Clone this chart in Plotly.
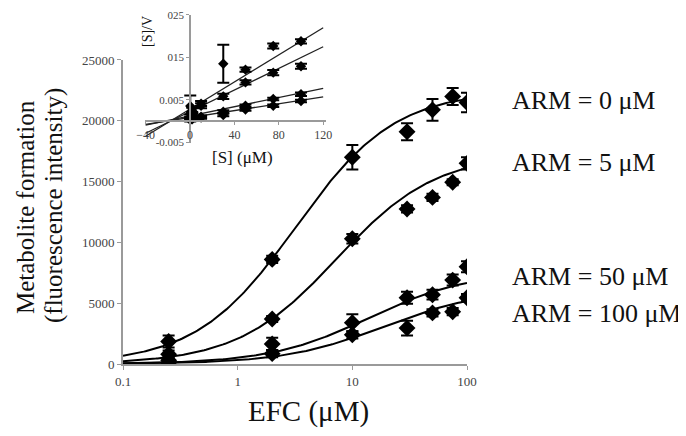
import numpy as np
import plotly.graph_objects as go

# ---------------- data ----------------
efc = [0.25, 2, 10, 30, 50, 75, 100]
series_names = ["ARM = 0 μM", "ARM = 5 μM", "ARM = 50 μM", "ARM = 100 μM"]
arm0 = [1850, 8600, 17000, 19100, 20900, 22000, 21500]
arm0_err = [500, 300, 1000, 700, 900, 700, 800]
arm5 = [800, 3700, 10300, 12750, 13700, 14950, 16500]
arm5_err = [300, 250, 400, 300, 300, 250, 500]
arm50 = [300, 1650, 3400, 5450, 5700, 6900, 8000]
arm50_err = [300, 500, 700, 500, 400, 450, 450]
arm100 = [100, 850, 2400, 2950, 4200, 4300, 5450]
arm100_err = [200, 300, 300, 600, 300, 300, 300]

# Michaelis-Menten fit parameters of the drawn curves
fit_vmax = [22500, 17300, 7600, 6150]
fit_km = [3.2, 7.3, 14.0, 18.7]

# inset (Hanes-Woolf plot)
s_inset = [0.25, 2, 10, 30, 50, 75, 100]
hw0 = [0.0002, 0.0004, 0.0008, 0.0014, 0.0027, 0.0036, 0.0047]
hw0_err = [0.0003, 0.0003, 0.0003, 0.0003, 0.0003, 0.0003, 0.0003]
hw5 = [0.0005, 0.0007, 0.0010, 0.0022, 0.0036, 0.0052, 0.0063]
hw5_err = [0.0003, 0.0003, 0.0003, 0.0003, 0.0003, 0.0003, 0.0004]
hw50 = [0.0010, 0.0015, 0.0036, 0.0058, 0.0091, 0.0114, 0.0129]
hw50_err = [0.0005, 0.0006, 0.0006, 0.0006, 0.0005, 0.0006, 0.0006]
hw100 = [0.0035, 0.0025, 0.0041, 0.0135, 0.0121, 0.0177, 0.0188]
hw100_err = [0.0025, 0.0006, 0.0006, 0.0045, 0.0005, 0.0006, 0.0005]
hw_slope = [0.0000408, 0.000054, 0.0001275, 0.000160]
hw_intercept = [0.0008, 0.0012, 0.0022, 0.0028]
hw_line_range = [-40, 120]

inset_yticks = [-0.005, 0.005, 0.015, 0.025]
inset_yticktext = ["-0.005", "0.005", "015", "025"]
inset_xticks = [-40, 0, 40, 80, 120]
main_yticks = [0, 5000, 10000, 15000, 20000, 25000]
main_yticktext = ["0", "5000", "10000", "15000", "20000", "25000"]
main_xticks = [0.1, 1, 10, 100]
main_xticktext = ["0.1", "1", "10", "100"]

SERIF = "Liberation Serif, Times New Roman, serif"
fig = go.Figure()

main_vals = [arm0, arm5, arm50, arm100]
main_errs = [arm0_err, arm5_err, arm50_err, arm100_err]
s_curve = np.logspace(-1, 2, 200)
for i in range(4):
    vm, km = fit_vmax[i], fit_km[i]
    fig.add_trace(go.Scatter(x=s_curve, y=vm * s_curve / (km + s_curve), mode="lines",
                             line=dict(color="black", width=2), showlegend=False,
                             hoverinfo="skip"))
for i in range(4):
    fig.add_trace(go.Scatter(x=efc, y=main_vals[i], mode="markers", name=series_names[i],
                             marker=dict(symbol="diamond", size=13, color="black"),
                             error_y=dict(type="data", array=main_errs[i], color="black",
                                          thickness=2, width=6),
                             showlegend=False))

# inset
hw_vals = [hw0, hw5, hw50, hw100]
hw_errs = [hw0_err, hw5_err, hw50_err, hw100_err]
for i in range(4):
    xs = np.array(hw_line_range, dtype=float)
    fig.add_trace(go.Scatter(x=xs, y=hw_intercept[i] + hw_slope[i] * xs, mode="lines",
                             line=dict(color="#222", width=1.3), xaxis="x2", yaxis="y2",
                             showlegend=False, hoverinfo="skip"))
for i in range(4):
    fig.add_trace(go.Scatter(x=s_inset, y=hw_vals[i], mode="markers", xaxis="x2", yaxis="y2",
                             marker=dict(symbol="diamond", size=8, color="black"),
                             error_y=dict(type="data", array=hw_errs[i], color="black",
                                          thickness=2, width=6),
                             showlegend=False))

# the page body has an 8px margin, so the figure is drawn 8px smaller and offset
OFF = 8
axis_col = "#9a9a9a"
tick_font = dict(family=SERIF, size=13, color="#444")
fig.update_layout(
    width=686 - OFF, height=436 - OFF,
    margin=dict(l=123 - OFF, r=219, t=10 - OFF, b=72, autoexpand=False),
    paper_bgcolor="white", plot_bgcolor="white",
    xaxis=dict(type="log", range=[-1, 2], tickvals=main_xticks, ticktext=main_xticktext,
               showgrid=False, zeroline=False, showline=True, linecolor=axis_col, linewidth=2,
               ticks="outside", ticklen=4, tickcolor=axis_col, tickfont=tick_font),
    yaxis=dict(range=[0, 25000], domain=[0, 0.8588], tickvals=main_yticks, ticktext=main_yticktext,
               showgrid=False, zeroline=False, showline=True, linecolor=axis_col, linewidth=2,
               ticks="outside", ticklen=4, tickcolor=axis_col, tickfont=tick_font),
    xaxis2=dict(domain=[0.064, 0.590], range=[-40.5, 122.5], anchor="free", position=0.6864,
                tickvals=inset_xticks, showgrid=False, zeroline=False, showline=True,
                linecolor=axis_col, linewidth=1.5, ticks="outside", ticklen=3, tickcolor=axis_col,
                tickfont=dict(family=SERIF, size=12, color="#444")),
    yaxis2=dict(domain=[0.6243, 0.9859], range=[-0.0052, 0.025], anchor="free", position=0.1948,
                tickvals=inset_yticks, ticktext=inset_yticktext, showgrid=False, zeroline=False,
                showline=True, linecolor=axis_col, linewidth=1.5, ticks="outside", ticklen=3,
                tickcolor=axis_col, tickfont=dict(family=SERIF, size=11, color="#444")),
)

def px_to_paper(px, py):
    return (px - 123) / 344, (364 - py) / 354

annots = []
def add_text(text, px, py, size, xanchor="center", angle=0):
    x, y = px_to_paper(px, py)
    annots.append(dict(text=text, x=x, y=y, xref="paper", yref="paper", showarrow=False,
                       xanchor=xanchor, yanchor="middle", textangle=angle,
                       font=dict(family=SERIF, size=size, color="#111")))

add_text("Metabolite formation", 26, 207, 25, angle=-90)
add_text("(fluorescence intensity)", 54, 206, 25, angle=-90)
add_text("EFC (μM)", 308, 411, 29)
label_y = [100, 162, 276, 313]
for name, ly in zip(series_names, label_y):
    add_text(name, 510, ly, 26, xanchor="left")
add_text("[S]/V", 148, 32, 14, angle=-90)
add_text("[S] (μM)", 242, 157, 17)
fig.update_layout(annotations=annots)

fig.write_html("out.html")
